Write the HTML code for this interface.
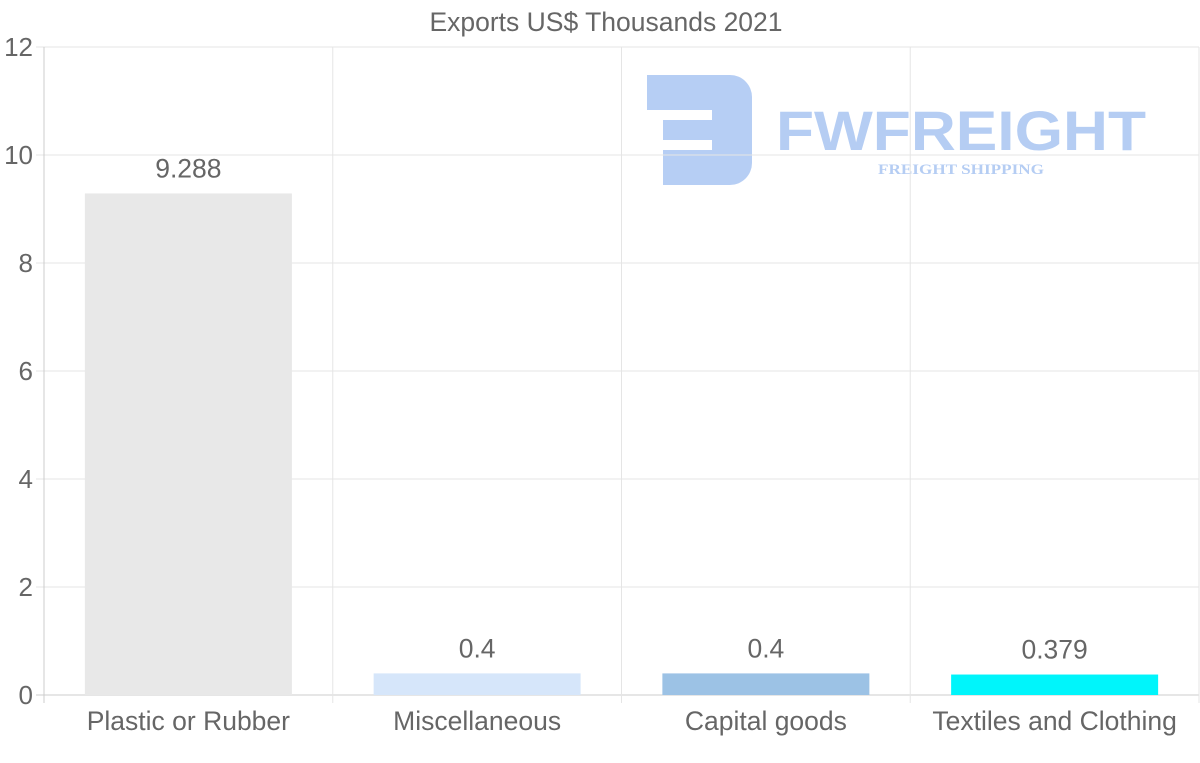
<!DOCTYPE html>
<html><head><meta charset="utf-8"><style>
html,body{margin:0;padding:0;background:#fff;}
svg{display:block;font-family:"Liberation Sans",Arial,sans-serif;}
</style></head><body>
<svg id="chart" width="1200" height="763" xmlns="http://www.w3.org/2000/svg">
<text x="606" y="31" text-anchor="middle" font-size="26.5" fill="#666">Exports US$ Thousands 2021</text>
<g opacity="0.85">
<path d="M647,75 H730 a22,22 0 0 1 22,22 V163 a22,22 0 0 1 -22,22 H663 V150 H712 V140 H663 V120 H712 V110 H647 Z" fill="#a9c5f2"/>
<text x="776" y="150" font-size="56" font-weight="bold" fill="#a9c5f2" textLength="370" lengthAdjust="spacingAndGlyphs">FWFREIGHT</text>
<text x="878" y="174" font-size="15" font-weight="bold" font-family="Liberation Serif,serif" fill="#a9c5f2" textLength="166" lengthAdjust="spacingAndGlyphs">FREIGHT SHIPPING</text>
</g>
<g id="grid"></g><g id="bars"></g><g id="labels"></g>
</svg>
<script>
const categories = ["Plastic or Rubber","Miscellaneous","Capital goods","Textiles and Clothing"];
const values = [9.288,0.4,0.4,0.379];
const valueLabels = ["9.288","0.4","0.4","0.379"];
const colors = ["#e8e8e8","#d6e6fa","#9cc2e5","#00f5fb"];
const yTicks = [0,2,4,6,8,10,12];
const NS="http://www.w3.org/2000/svg";
const X0=44,X1=1199,Y0=695,Y1=47,YMAX=12;
const y=v=>Y0-(v/YMAX)*(Y0-Y1);
const cw=(X1-X0)/categories.length;
const xc=i=>X0+cw*(i+0.5);
function mk(tag,attrs,parent){const e=document.createElementNS(NS,tag);for(const k in attrs)e.setAttribute(k,attrs[k]);parent.appendChild(e);return e;}
const grid=document.getElementById('grid'),bars=document.getElementById('bars'),labels=document.getElementById('labels');
yTicks.forEach(t=>{
  const l=mk('line',{x1:36,x2:X1,y1:y(t),y2:y(t),stroke:t===0?'#ccc':'#e5e5e5','stroke-width':1},grid);
  
  
  const tx=mk('text',{x:33,y:y(t)+9,'text-anchor':'end','font-size':26,fill:'#666'},grid);
  tx.textContent=t;
  
  
});
for(let i=0;i<=categories.length;i++){
  const x=X0+cw*i;
  const l=mk('line',{x1:x,x2:x,y1:Y1,y2:703,stroke:i===0?'#ccc':'#e5e5e5','stroke-width':1},grid);
  
  
}
categories.forEach((c,i)=>{
  const bw=207;
  const r=mk('rect',{x:xc(i)-bw/2,y:y(values[i]),width:bw,height:Y0-y(values[i]),fill:colors[i]},bars);
  
  
  const v=mk('text',{x:xc(i),y:y(values[i])-16,'text-anchor':'middle','font-size':26.5,fill:'#666'},labels);
  v.textContent=valueLabels[i];
  
  
  const t=mk('text',{x:xc(i),y:730,'text-anchor':'middle','font-size':26.5,fill:'#666'},labels);
  t.textContent=c;
  
  
});
</script>
</body></html>
